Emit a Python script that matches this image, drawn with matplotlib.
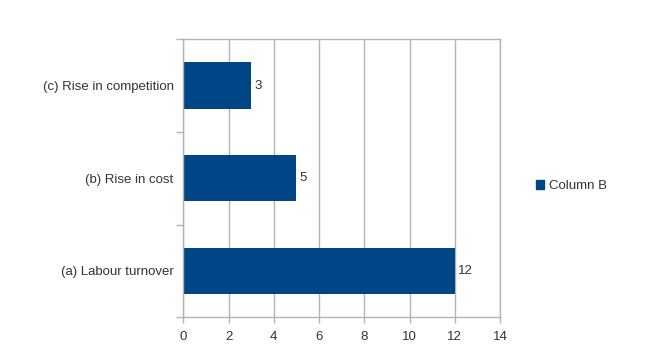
import matplotlib.pyplot as plt
from matplotlib.patches import Patch

plt.rcParams['font.family'] = ['Liberation Sans', 'DejaVu Sans']

categories = ["(a) Labour turnover", "(b) Rise in cost", "(c) Rise in competition"]
values = [12, 5, 3]
xticks = [0, 2, 4, 6, 8, 10, 12, 14]
series_name = "Column B"

bar_color = "#004586"
grid_color = "#b3b3b3"
text_color = "#333333"

fig = plt.figure(figsize=(6.47, 3.63), dpi=100)
ax = fig.add_axes([0.2833, 0.1259, 0.4895, 0.7658])

ypos = list(range(len(categories)))
bars = ax.barh(ypos, values, height=0.5, color=bar_color, zorder=3)

ax.set_xlim(0, 14)
ax.set_ylim(-0.5, len(categories) - 0.5)
ax.set_xticks(xticks)
ax.set_xticklabels([str(t) for t in xticks], fontsize=9.5, color=text_color)
ax.set_yticks(ypos)
ax.set_yticklabels(categories, fontsize=9.5, color=text_color)
ax.tick_params(axis='y', length=0, pad=7)
ax.tick_params(axis='x', length=4, color=grid_color, width=1, pad=6)

# category boundary ticks on the y axis
ax.set_yticks([-0.5, 0.5, 1.5, 2.5], minor=True)
ax.tick_params(axis='y', which='minor', length=5, color=grid_color, width=1)

ax.grid(axis='x', color=grid_color, linewidth=1, zorder=0)
for side in ['left', 'bottom', 'top', 'right']:
    ax.spines[side].set_color(grid_color)
    ax.spines[side].set_linewidth(1)
    ax.spines[side].set_zorder(4)

for b, v in zip(bars, values):
    ax.text(v + 0.14, b.get_y() + b.get_height() / 2, str(v),
            va='center', ha='left', fontsize=9.5, color=text_color)

fig.legend(handles=[Patch(color=bar_color, label=series_name)],
           loc='center left', bbox_to_anchor=(0.81, 0.487), frameon=False,
           fontsize=9.5, handlelength=0.6, handleheight=0.6, handletextpad=0.4,
           labelcolor=text_color)

fig.savefig("out.png", dpi=100)
